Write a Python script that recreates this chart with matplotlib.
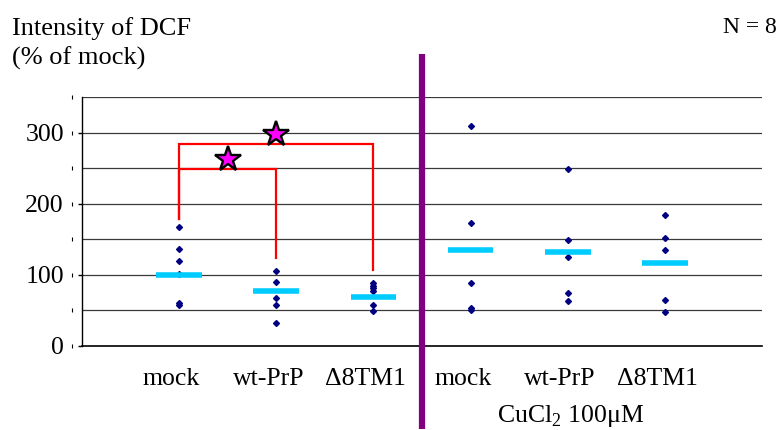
import matplotlib
matplotlib.use("Agg")
import matplotlib.pyplot as plt
from matplotlib import transforms

plt.rcParams['font.family'] = ['Liberation Serif', 'DejaVu Serif']
plt.rcParams['mathtext.fontset'] = 'custom'
plt.rcParams['mathtext.rm'] = 'Liberation Serif'

# ---- data ----
categories = ["mock", "wt-PrP", "Δ8TM1", "mock", "wt-PrP", "Δ8TM1"]
points = [
    [167, 137, 120, 101, 61, 58],
    [106, 90, 68, 57, 32],
    [88, 84, 81, 77, 58, 49],
    [309, 173, 89, 54, 51],
    [249, 149, 125, 75, 63],
    [184, 152, 135, 65, 48],
]
means = [100, 77, 69, 135, 132, 117]
yticks = [0, 100, 200, 300]
# significance brackets: (from category, to category, height, left foot, right foot)
brackets = [(1, 2, 249, 178, 123), (1, 3, 284, 178, 107)]
star_x = [1.5, 2.0]
star_y = [263, 298]

fig = plt.figure(figsize=(7.78, 4.30), dpi=100)
ax = fig.add_axes([82/778, 1-346/430, 680/778, 249/430])

xs = list(range(1, len(categories) + 1))
ax.set_xlim(0, len(categories) + 1)
ax.set_ylim(0, 350)

# grid
for v in range(50, 351, 50):
    ax.axhline(v, color='#3a3a3a', lw=0.9, zorder=1)

# points
for x, pts in zip(xs, points):
    ax.plot([x] * len(pts), pts, ls='none', marker='D', ms=3.0, color='#000080',
            mec='#000080', zorder=2)

# mean bars
for x, m in zip(xs, means):
    ax.hlines(m, x - 0.235, x + 0.235, color='#00CCFF', lw=4.0, zorder=3, capstyle='butt')

# brackets
for a, b, h, fa, fb in brackets:
    ax.plot([a, a, b, b], [fa, h, h, fb], color='#FF0000', lw=1.6, zorder=4,
            solid_joinstyle='miter')

# stars
ax.plot(star_x, star_y, ls='none', marker='*', ms=19, mfc='#FF00FF', mec='black',
        mew=1.7, zorder=5)

# divider
ax.plot([3.5, 3.5], [-116, 410], color='#800080', lw=4.5, clip_on=False, zorder=6,
        solid_capstyle='butt')

# spines
for s in ['top', 'right']:
    ax.spines[s].set_visible(False)
ax.spines['left'].set_color('black')
ax.spines['left'].set_linewidth(1.0)
ax.spines['bottom'].set_color('black')
ax.spines['bottom'].set_linewidth(1.2)

ax.set_yticks(yticks)
ax.set_yticklabels([str(t) for t in yticks], fontsize=18.5)
ax.tick_params(axis='y', direction='out', length=3, width=1, pad=10)
ax.set_xticks([])

# small minor marks left of axis
trans_m = transforms.blended_transform_factory(ax.transAxes, ax.transData)
ax.plot([-10/680] * 8, list(range(0, 351, 50)), ls='none', marker='|', ms=2.5,
        color='black', mew=0.8, transform=trans_m, clip_on=False)

# category labels
trans_c = transforms.blended_transform_factory(ax.transData, ax.transAxes)
for x, lab in zip(xs, categories):
    ax.text(x - 0.08, -39/249, lab, transform=trans_c, ha='center', va='baseline',
            fontsize=18.5)

ax.text(5.03, -76/249, r"CuCl$_\mathrm{2}$ 100μM", transform=trans_c, ha='center',
        va='baseline', fontsize=18.5)

fig.text(12/778, 1-35/430, "Intensity of DCF", ha='left', va='baseline', fontsize=19)
fig.text(12/778, 1-65/430, "(% of mock)", ha='left', va='baseline', fontsize=19)
fig.text(777/778, 1-33/430, "N = 8", ha='right', va='baseline', fontsize=17)

fig.savefig("out.png", dpi=100)
